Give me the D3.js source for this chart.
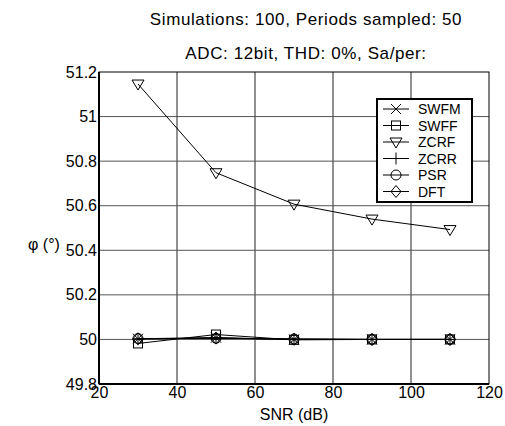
<!DOCTYPE html>
<html>
<head>
<meta charset="utf-8">
<script src="https://cdn.jsdelivr.net/npm/d3@7"></script>
<style>
  body { margin: 0; background: #fff; }
  svg { display: block; font-family: "Liberation Sans", Arial, sans-serif; }
</style>
</head>
<body>
<div id="chart"></div>
<script>
// SNR sweep values and phase estimates per method
const snr = [30, 50, 70, 90, 110];
const swfm = [50.003, 50.008, 50.0, 50.0, 50.0];
const swff = [49.982, 50.022, 49.998, 50.0, 50.0];
const zcrf = [51.146, 50.748, 50.607, 50.54, 50.493];
const zcrr = [50.002, 50.006, 50.001, 50.0, 50.0];
const psr = [50.004, 50.005, 50.002, 50.0, 50.0];
const dft = [50.003, 50.006, 50.001, 50.0, 50.0];
const xTicks = [20, 40, 60, 80, 100, 120];
const yTicks = [49.8, 50, 50.2, 50.4, 50.6, 50.8, 51, 51.2];

const series = [
  {name: 'SWFM', values: swfm, marker: 'x'},
  {name: 'SWFF', values: swff, marker: 'square'},
  {name: 'ZCRF', values: zcrf, marker: 'tri'},
  {name: 'ZCRR', values: zcrr, marker: 'plus'},
  {name: 'PSR', values: psr, marker: 'circle'},
  {name: 'DFT', values: dft, marker: 'diamond'}
];

const width = 505, height = 426;
const margin = {top: 72, right: 16, bottom: 42, left: 99};

const svg = d3.select('#chart').append('svg')
  .attr('width', width)
  .attr('height', height);

const x = d3.scaleLinear().domain([20, 120]).range([margin.left, width - margin.right]);
const y = d3.scaleLinear().domain([49.8, 51.2]).range([height - margin.bottom, margin.top]);

// Grid lines
svg.append('g').selectAll('line.vg')
  .data(xTicks.slice(1, -1))
  .enter().append('line')
    .attr('x1', d => x(d)).attr('x2', d => x(d))
    .attr('y1', y(51.2)).attr('y2', y(49.8))
    .attr('stroke', '#222').attr('stroke-width', 1);

svg.append('g').selectAll('line.hg')
  .data(yTicks.slice(1, -1))
  .enter().append('line')
    .attr('x1', x(20)).attr('x2', x(120))
    .attr('y1', d => y(d)).attr('y2', d => y(d))
    .attr('stroke', '#555').attr('stroke-width', 1);

// Axes
const xAxis = d3.axisBottom(x).tickValues(xTicks).tickSize(0).tickPadding(3);
const yAxis = d3.axisLeft(y).tickValues(yTicks).tickSize(0).tickPadding(2)
  .tickFormat(d => d3.format('')(+d.toFixed(1)));

svg.append('g')
  .attr('transform', 'translate(0,' + y(49.8) + ')')
  .call(xAxis)
  .call(g => g.select('.domain').remove())
  .selectAll('text')
    .attr('font-size', 16).attr('font-family', null).attr('fill', '#000');

svg.append('g')
  .attr('transform', 'translate(' + x(20) + ',0)')
  .call(yAxis)
  .call(g => g.select('.domain').remove())
  .selectAll('text')
    .attr('font-size', 16).attr('font-family', null).attr('fill', '#000');

// Frame
svg.append('rect')
  .attr('x', x(20)).attr('y', y(51.2))
  .attr('width', x(120) - x(20)).attr('height', y(49.8) - y(51.2))
  .attr('fill', 'none').attr('stroke', '#000').attr('stroke-width', 1);
svg.append('line')
  .attr('x1', x(20)).attr('x2', x(20)).attr('y1', y(51.2)).attr('y2', y(49.8))
  .attr('stroke', '#000').attr('stroke-width', 2);
svg.append('line')
  .attr('x1', x(20)).attr('x2', x(120)).attr('y1', y(49.8)).attr('y2', y(49.8))
  .attr('stroke', '#000').attr('stroke-width', 2);

// Marker drawing
function drawMarker(g, type, cx, cy) {
  const s = 5;
  if (type === 'x') {
    g.append('path').attr('d', `M${cx - s},${cy - s}L${cx + s},${cy + s}M${cx - s},${cy + s}L${cx + s},${cy - s}`)
      .attr('stroke', '#000').attr('fill', 'none');
  } else if (type === 'square') {
    g.append('rect').attr('x', cx - 4.5).attr('y', cy - 4.5).attr('width', 9).attr('height', 9)
      .attr('stroke', '#000').attr('fill', 'none');
  } else if (type === 'tri') {
    g.append('path').attr('d', `M${cx - 6},${cy - 4}L${cx + 6},${cy - 4}L${cx},${cy + 6}Z`)
      .attr('stroke', '#000').attr('fill', 'none');
  } else if (type === 'plus') {
    g.append('path').attr('d', `M${cx - 6},${cy}L${cx + 6},${cy}M${cx},${cy - 6}L${cx},${cy + 6}`)
      .attr('stroke', '#000').attr('fill', 'none');
  } else if (type === 'circle') {
    g.append('circle').attr('cx', cx).attr('cy', cy).attr('r', 5)
      .attr('stroke', '#000').attr('fill', 'none');
  } else if (type === 'diamond') {
    g.append('path').attr('d', `M${cx},${cy - 6}L${cx + 5},${cy}L${cx},${cy + 6}L${cx - 5},${cy}Z`)
      .attr('stroke', '#000').attr('fill', 'none');
  }
}

const line = d3.line().x((d, i) => x(snr[i])).y(d => y(d));

series.forEach(s => {
  const g = svg.append('g');
  g.append('path')
    .attr('d', line(s.values))
    .attr('fill', 'none')
    .attr('stroke', '#000')
    .attr('stroke-width', 1);
  s.values.forEach((v, i) => drawMarker(g, s.marker, x(snr[i]), y(v)));
});

// Legend
const lg = svg.append('g');
const lx = 377, ly = 99, lw = 95, lh = 103;
lg.append('rect')
  .attr('x', lx).attr('y', ly).attr('width', lw).attr('height', lh)
  .attr('fill', '#fff').attr('stroke', '#000').attr('stroke-width', 2);
series.forEach((s, i) => {
  const cy = ly + 10 + i * 16.5;
  lg.append('line')
    .attr('x1', lx + 6).attr('x2', lx + 32).attr('y1', cy).attr('y2', cy)
    .attr('stroke', '#000');
  drawMarker(lg, s.marker, lx + 19, cy);
  lg.append('text')
    .attr('x', lx + 41).attr('y', cy + 5)
    .attr('font-size', 14)
    .text(s.name);
});

// Titles
svg.append('text')
  .attr('x', 306).attr('y', 25)
  .attr('text-anchor', 'middle').attr('font-size', 17)
  .attr('letter-spacing', 0.6)
  .text('Simulations: 100, Periods sampled: 50');
svg.append('text')
  .attr('x', 306).attr('y', 59)
  .attr('text-anchor', 'middle').attr('font-size', 17)
  .attr('letter-spacing', 0.6)
  .text('ADC: 12bit, THD: 0%, Sa/per:');

// Axis labels
svg.append('text')
  .attr('x', x(70)).attr('y', 420)
  .attr('text-anchor', 'middle').attr('font-size', 16)
  .text('SNR (dB)');
svg.append('text')
  .attr('x', 28).attr('y', 250)
  .attr('font-size', 16)
  .text('φ  (°)');
</script>
</body>
</html>
